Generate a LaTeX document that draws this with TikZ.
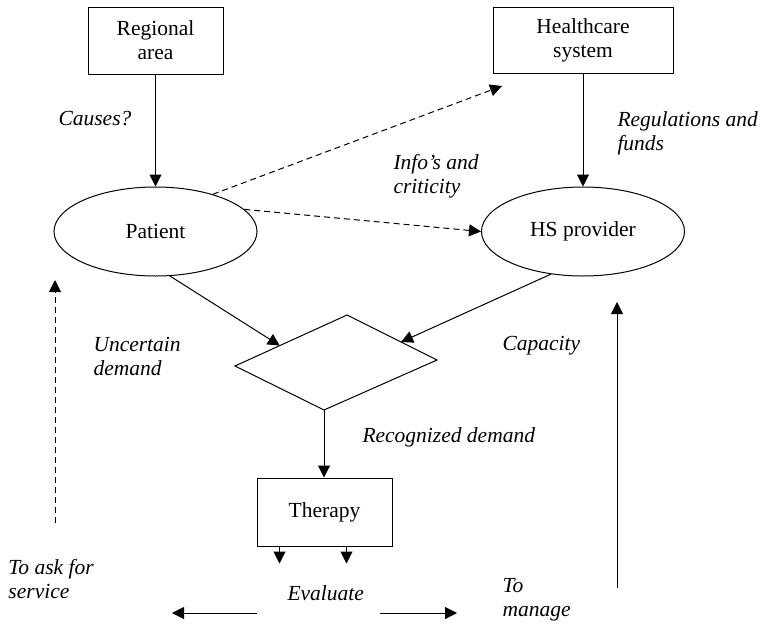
\documentclass[tikz,border=0pt]{standalone}
\usepackage{fontspec}
\setmainfont{Liberation Serif}
\usetikzlibrary{arrows.meta,shapes.geometric,calc}

\begin{document}
\begin{tikzpicture}[x=1pt,y=-1pt,
  line width=1pt,
  every node/.style={font=\fontsize{21.5}{24}\selectfont},
  box/.style={draw,rectangle,align=center,inner sep=2pt},
  actor/.style={draw,ellipse,minimum width=203pt,minimum height=89pt,inner sep=0pt},
  lbl/.style={anchor=base west,align=left,inner sep=0pt,font=\fontsize{21.5}{24}\selectfont\itshape},
  flow/.style={-{Triangle[length=12pt,width=12pt]}},
  hint/.style={flow,dash pattern=on 6pt off 4pt}
]
\useasboundingbox (0,0) rectangle (763,624);

% main blocks
\node[box,minimum width=135pt,minimum height=67pt] (reg) at (155.5,40.5) {Regional\\area};
\node[box,minimum width=180pt,minimum height=66pt] (hcs) at (583,40) {Healthcare\\system};
\node[actor] (pat) at (155.5,231.5) {Patient};
\node[actor] (hsp) at (583,231.5) {HS provider};
\node[box,minimum width=135pt,minimum height=68pt] (ther) at (324.5,512) {Therapy};

% skewed decision shape
\coordinate (dl) at (235,366);
\coordinate (dt) at (347,315);
\coordinate (dr) at (437,360);
\coordinate (db) at (324,410);
\draw (dl) -- (dt) -- (dr) -- (db) -- cycle;
\coordinate (inA) at ($(dl)!0.4!(dt)$);
\coordinate (inB) at ($(dt)!0.6!(dr)$);

% connectors
\draw[flow] (reg) -- (pat);
\draw[flow] (hcs) -- (hsp);
\coordinate (hcsIn) at (502,86);
\draw[hint] (pat.33) -- (hcsIn);
\draw[hint] (pat.14) -- (hsp.west);
\draw[flow] (pat.-72) -- (inA);
\draw[flow] (hsp.-127) -- (inB);
\draw[flow] (db) -- (db |- ther.north);

% outputs of the therapy block
\coordinate (o1) at ($(ther.south west)+(23,0)$);
\coordinate (o2) at ($(ther.south west)+(90,0)$);
\draw[flow] (o1) -- ++(0,17);
\draw[flow] (o2) -- ++(0,17);

% evaluation arrows
\coordinate (evL) at (257,613);
\coordinate (evLend) at (172,613);
\coordinate (evR) at (380,613);
\coordinate (evRend) at (457,613);
\draw[flow] (evL) -- (evLend);
\draw[flow] (evR) -- (evRend);

% feedback arrows
\coordinate (askS) at (55,523);
\coordinate (askE) at (55,280);
\draw[hint] (askS) -- (askE);
\coordinate (manS) at (617,588);
\coordinate (manE) at (617,302);
\draw[flow] (manS) -- (manE);

% labels (multi-line labels are anchored on the baseline of their last line)
\node[lbl] (lcause) at (58,125) {Causes?};
\node[lbl] (lreg) at (617,150) {Regulations and\\funds};
\node[lbl] (linfo) at (393,193) {Info's and\\criticity};
\node[lbl] (lunc) at (93,375) {Uncertain\\demand};
\node[lbl] (lcap) at (502,350) {Capacity};
\node[lbl] (lrec) at (362,442) {Recognized demand};
\node[lbl] (lask) at (8,598) {To ask for\\service};
\node[lbl] (leval) at (287,600) {Evaluate};
\node[lbl] (lman) at (502,616) {To\\manage};
\end{tikzpicture}
\end{document}
